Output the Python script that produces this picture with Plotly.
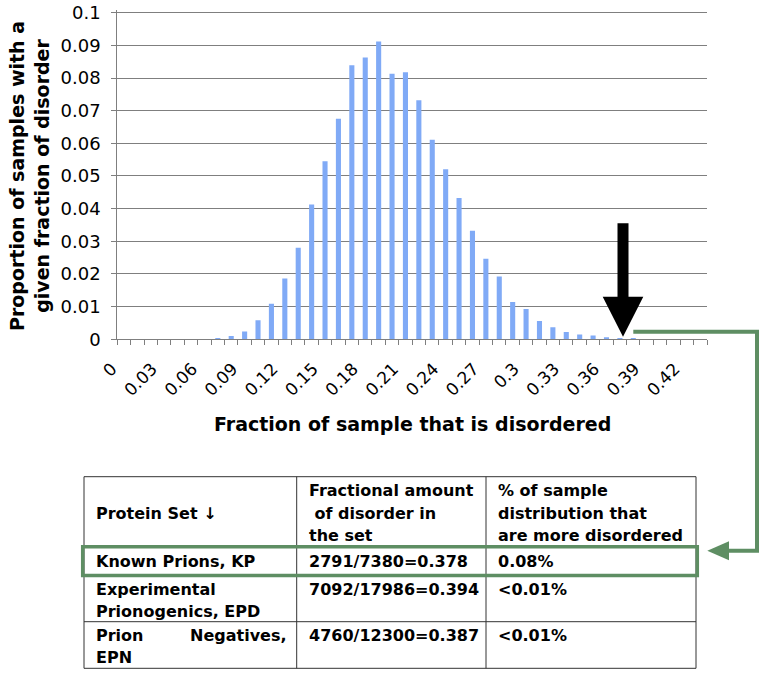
import plotly.graph_objects as go

# histogram of sample disorder fractions (bin = fraction of sample disordered)
disorder_bins = [0.00, 0.01, 0.02, 0.03, 0.04, 0.05, 0.06, 0.07, 0.08, 0.09,
                 0.10, 0.11, 0.12, 0.13, 0.14, 0.15, 0.16, 0.17, 0.18, 0.19,
                 0.20, 0.21, 0.22, 0.23, 0.24, 0.25, 0.26, 0.27, 0.28, 0.29,
                 0.30, 0.31, 0.32, 0.33, 0.34, 0.35, 0.36, 0.37, 0.38, 0.39,
                 0.40, 0.41, 0.42, 0.43]
proportions = [0, 0, 0, 0, 0, 0, 0, 0.0002, 0.001, 0.0024,
               0.0058, 0.0109, 0.0186, 0.028, 0.0413, 0.0545, 0.0675, 0.0839, 0.0863, 0.0912,
               0.0813, 0.0818, 0.0732, 0.0611, 0.0521, 0.0433, 0.0332, 0.0247, 0.0192, 0.0114,
               0.0093, 0.0056, 0.0037, 0.0022, 0.0015, 0.0012, 0.0006, 0.0004, 0.0003, 0,
               0, 0, 0, 0]

x_tickvals = [0, 0.03, 0.06, 0.09, 0.12, 0.15, 0.18, 0.21, 0.24, 0.27, 0.30, 0.33, 0.36, 0.39, 0.42]
x_ticktext = ["0", "0.03", "0.06", "0.09", "0.12", "0.15", "0.18", "0.21", "0.24", "0.27",
              "0.3", "0.33", "0.36", "0.39", "0.42"]
y_tickvals = [0, 0.01, 0.02, 0.03, 0.04, 0.05, 0.06, 0.07, 0.08, 0.09, 0.1]
y_ticktext = ["0", "0.01", "0.02", "0.03", "0.04", "0.05", "0.06", "0.07", "0.08", "0.09", "0.1"]

# table below the chart
header_cols = ["Protein Set \u2193",
               "Fractional amount<br> of disorder in<br>the set",
               "% of sample<br>distribution that<br>are more disordered"]
protein_sets = ["Known Prions, KP", "Experimental<br>Prionogenics, EPD", "Prion Negatives,<br>EPN"]
fractional = ["2791/7380=0.378", "7092/17986=0.394", "4760/12300=0.387"]
more_disordered = ["0.08%", "&lt;0.01%", "&lt;0.01%"]
justify_first_line = [False, False, True]

W, H = 768, 674
GREEN = "#5E8E63"
GRID = "#7F7F7F"
TFONT = dict(family="DejaVu Sans", size=16, color="black")

# table geometry in pixels
col_edges = [84, 296.7, 486, 696]
row_edges = [476.7, 546.3, 575.5, 621.7, 668.3]

# plot area: y=0 at 339.3px, y=0.1 at 12.7px; range padded a little so plotly keeps the 0.1 gridline
Y_TOP = 0.1008
y_top_px = 339.3 - (339.3 - 12.7) * Y_TOP / 0.1


def px(x):
    return x / W


def py(y):
    return 1 - y / H


def path(points, close=False):
    s = "M " + " L ".join(f"{px(x):.5f},{py(y):.5f}" for x, y in points)
    return s + (" Z" if close else "")


def note(text, x, y, xanchor="center", font=TFONT, **kw):
    fig.add_annotation(text=text, x=px(x), y=py(y), xref="paper", yref="paper",
                       xanchor=xanchor, yanchor="middle", showarrow=False, font=font, **kw)


fig = go.Figure()
fig.add_trace(go.Bar(x=disorder_bins, y=proportions, width=0.0038,
                     marker=dict(color="#80AAF6", line=dict(width=0)), showlegend=False))

fig.update_xaxes(
    domain=[px(117.3), px(707)], range=[-0.005, 0.435], automargin=False,
    tickmode="array", tickvals=x_tickvals, ticktext=x_ticktext, tickangle=-45,
    ticks="", tickfont=dict(family="DejaVu Sans", size=17, color="black"),
    ticklabelstandoff=12, ticklabelshift=-12,
    minor=dict(ticks="outside", tick0=-0.005, dtick=0.01, ticklen=5, tickcolor=GRID, showgrid=False),
    showline=True, linecolor=GRID, showgrid=False, zeroline=False,
)
fig.update_yaxes(
    domain=[py(339.3), py(y_top_px)], range=[0, Y_TOP], automargin=False,
    tickmode="array", tickvals=y_tickvals, ticktext=y_ticktext,
    ticks="outside", ticklen=5, tickcolor=GRID, ticklabelstandoff=7, ticklabeloverflow="allow",
    tickfont=dict(family="DejaVu Sans", size=18, color="black"),
    showline=True, linecolor=GRID, showgrid=True, gridcolor=GRID, gridwidth=1, zeroline=False,
)

note("<b>Proportion of samples with a<br>given fraction of disorder</b>", 29, 176, textangle=-90,
     font=dict(family="DejaVu Sans", size=19, color="black"))
note("<b>Fraction of sample that is disordered</b>", 412, 424,
     font=dict(family="DejaVu Sans", size=19, color="black"))

# table grid
for x in col_edges:
    fig.add_shape(type="line", xref="paper", yref="paper", x0=px(x), x1=px(x),
                  y0=py(row_edges[0]), y1=py(row_edges[-1]), line=dict(color="#333333", width=1))
for y in row_edges:
    fig.add_shape(type="line", xref="paper", yref="paper", x0=px(col_edges[0]), x1=px(col_edges[-1]),
                  y0=py(y), y1=py(y), line=dict(color="#333333", width=1))

LINE_STEP = 22.5


def cell_text(text, col, top, justify=False):
    x0 = col_edges[col] + 10
    x1 = col_edges[col + 1] - 8
    for i, line in enumerate(text.split("<br>")):
        y = top + i * LINE_STEP
        if justify and i == 0 and " " in line:
            first, rest = line.split(" ", 1)
            note(f"<b>{first}</b>", x0, y, xanchor="left")
            note(f"<b>{rest}</b>", x1, y, xanchor="right")
        else:
            note(f"<b>{line}</b>", x0, y, xanchor="left")


cell_text(header_cols[0], 0, 513.3)
cell_text(header_cols[1], 1, 490.5)
cell_text(header_cols[2], 2, 490.5)
for r, (a, b, c) in enumerate(zip(protein_sets, fractional, more_disordered)):
    top = row_edges[r + 1] + (15 if r == 0 else 13.5)
    cell_text(a, 0, top, justify_first_line[r])
    cell_text(b, 1, top)
    cell_text(c, 2, top)

# black block arrow pointing at the known-prion value
fig.add_shape(type="path", xref="paper", yref="paper", fillcolor="black", line=dict(width=0),
              path=path([(617.5, 223.3), (628.5, 223.3), (628.5, 296.7), (643.3, 296.7),
                         (623, 336.7), (602.7, 296.7), (617.5, 296.7)], close=True))

# green connector to the table row
fig.add_shape(type="path", xref="paper", yref="paper", line=dict(color=GREEN, width=4),
              path=path([(633.3, 331.7), (757, 331.7), (757, 550.7), (726, 550.7)]))
fig.add_shape(type="path", xref="paper", yref="paper", fillcolor=GREEN, line=dict(width=0),
              path=path([(707.3, 550.7), (729, 541.2), (729, 560.2)], close=True))
fig.add_shape(type="rect", xref="paper", yref="paper", line=dict(color=GREEN, width=3.5),
              x0=px(82.7), x1=px(697.3), y0=py(575.5), y1=py(546.7))

fig.update_layout(
    width=W, height=H, autosize=False,
    margin=dict(l=0, r=0, t=0, b=0),
    plot_bgcolor="white", paper_bgcolor="white",
)

# drop the default 8px page margin so the figure fills the window exactly
fig.write_html("out.html", config={"displayModeBar": False},
               post_script="document.body.style.margin='0';")
